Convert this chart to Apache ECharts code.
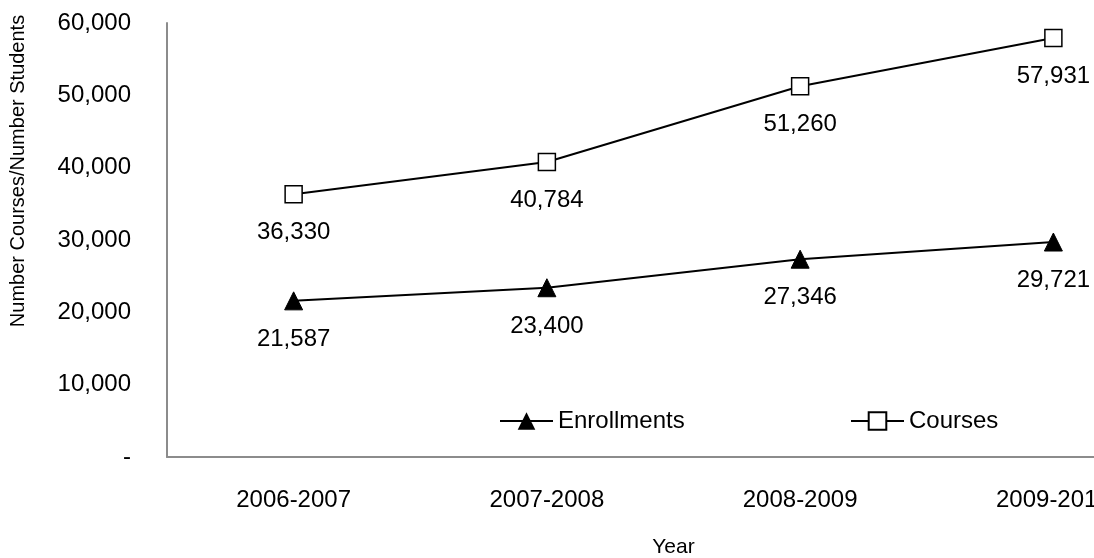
<!DOCTYPE html>
<html>
<head>
<meta charset="utf-8">
<script src="https://cdn.jsdelivr.net/npm/echarts@6/dist/echarts.min.js"></script>
<style>
  html, body { margin: 0; padding: 0; background: #fff; }
  #chart { width: 1094px; height: 558px; }
</style>
</head>
<body>
<div id="chart"></div>
<script>
// school years on the x axis
const years = ['2006-2007', '2007-2008', '2008-2009', '2009-2010']
const enrollments = [21587, 23400, 27346, 29721]
const courses = [36330, 40784, 51260, 57931]
const yTicks = [0, 10000, 20000, 30000, 40000, 50000, 60000]

const FONT = 'Liberation Sans, Arial, Helvetica, sans-serif'
const fmt = v => v === 0 ? '-' : v.toLocaleString('en-US')

const chart = echarts.init(document.getElementById('chart'))

const labelStyle = {
  show: true,
  position: 'bottom',
  distance: 17,
  color: '#000',
  fontSize: 24,
  fontFamily: FONT,
  formatter: p => fmt(p.value)
}

const legendText = { fontSize: 24, color: '#000', fontFamily: FONT }

const option = {
  backgroundColor: '#fff',
  animation: false,
  textStyle: { fontFamily: FONT },
  // plot area runs past the right edge of the picture, like the source
  grid: { left: 167, top: 23, width: 1013, height: 434, outerBoundsMode: 'none' },
  legend: [
    {
      data: ['Enrollments'],
      left: 494, top: 404,
      itemWidth: 53, itemHeight: 22, itemGap: 7,
      textStyle: legendText
    },
    {
      data: ['Courses'],
      left: 845, top: 404,
      itemWidth: 53, itemHeight: 22, itemGap: 7,
      textStyle: legendText
    }
  ],
  graphic: [{
    type: 'text',
    x: 18, y: 171,
    rotation: Math.PI / 2,
    style: {
      text: 'Number Courses/Number Students',
      fill: '#000',
      font: '20px ' + FONT,
      textAlign: 'center',
      textVerticalAlign: 'middle'
    }
  }],
  xAxis: {
    type: 'category',
    data: years,
    boundaryGap: true,
    name: 'Year',
    nameLocation: 'middle',
    nameGap: 80,
    nameTextStyle: { fontSize: 21, color: '#000' },
    axisLine: { lineStyle: { color: '#8c8c8c', width: 2 } },
    axisTick: { show: false },
    axisLabel: { color: '#000', fontSize: 24, margin: 31 },
    splitLine: { show: false }
  },
  yAxis: {
    type: 'value',
    min: yTicks[0],
    max: yTicks[yTicks.length - 1],
    interval: 10000,
    axisLine: { show: true, lineStyle: { color: '#8c8c8c', width: 2 } },
    axisTick: { show: false },
    splitLine: { show: false },
    axisLabel: { color: '#000', fontSize: 24, margin: 36, formatter: fmt }
  },
  series: [
    {
      name: 'Enrollments',
      type: 'line',
      data: enrollments,
      symbol: 'triangle',
      symbolSize: 18,
      lineStyle: { color: '#000', width: 2 },
      itemStyle: { color: '#000', borderColor: '#000' },
      label: labelStyle
    },
    {
      name: 'Courses',
      type: 'line',
      data: courses,
      symbol: 'rect',
      symbolSize: 17,
      lineStyle: { color: '#000', width: 2 },
      itemStyle: { color: '#fff', borderColor: '#000', borderWidth: 1.5 },
      label: labelStyle
    }
  ]
}

chart.setOption(option)
window.addEventListener('resize', () => chart.resize())
</script>
</body>
</html>
